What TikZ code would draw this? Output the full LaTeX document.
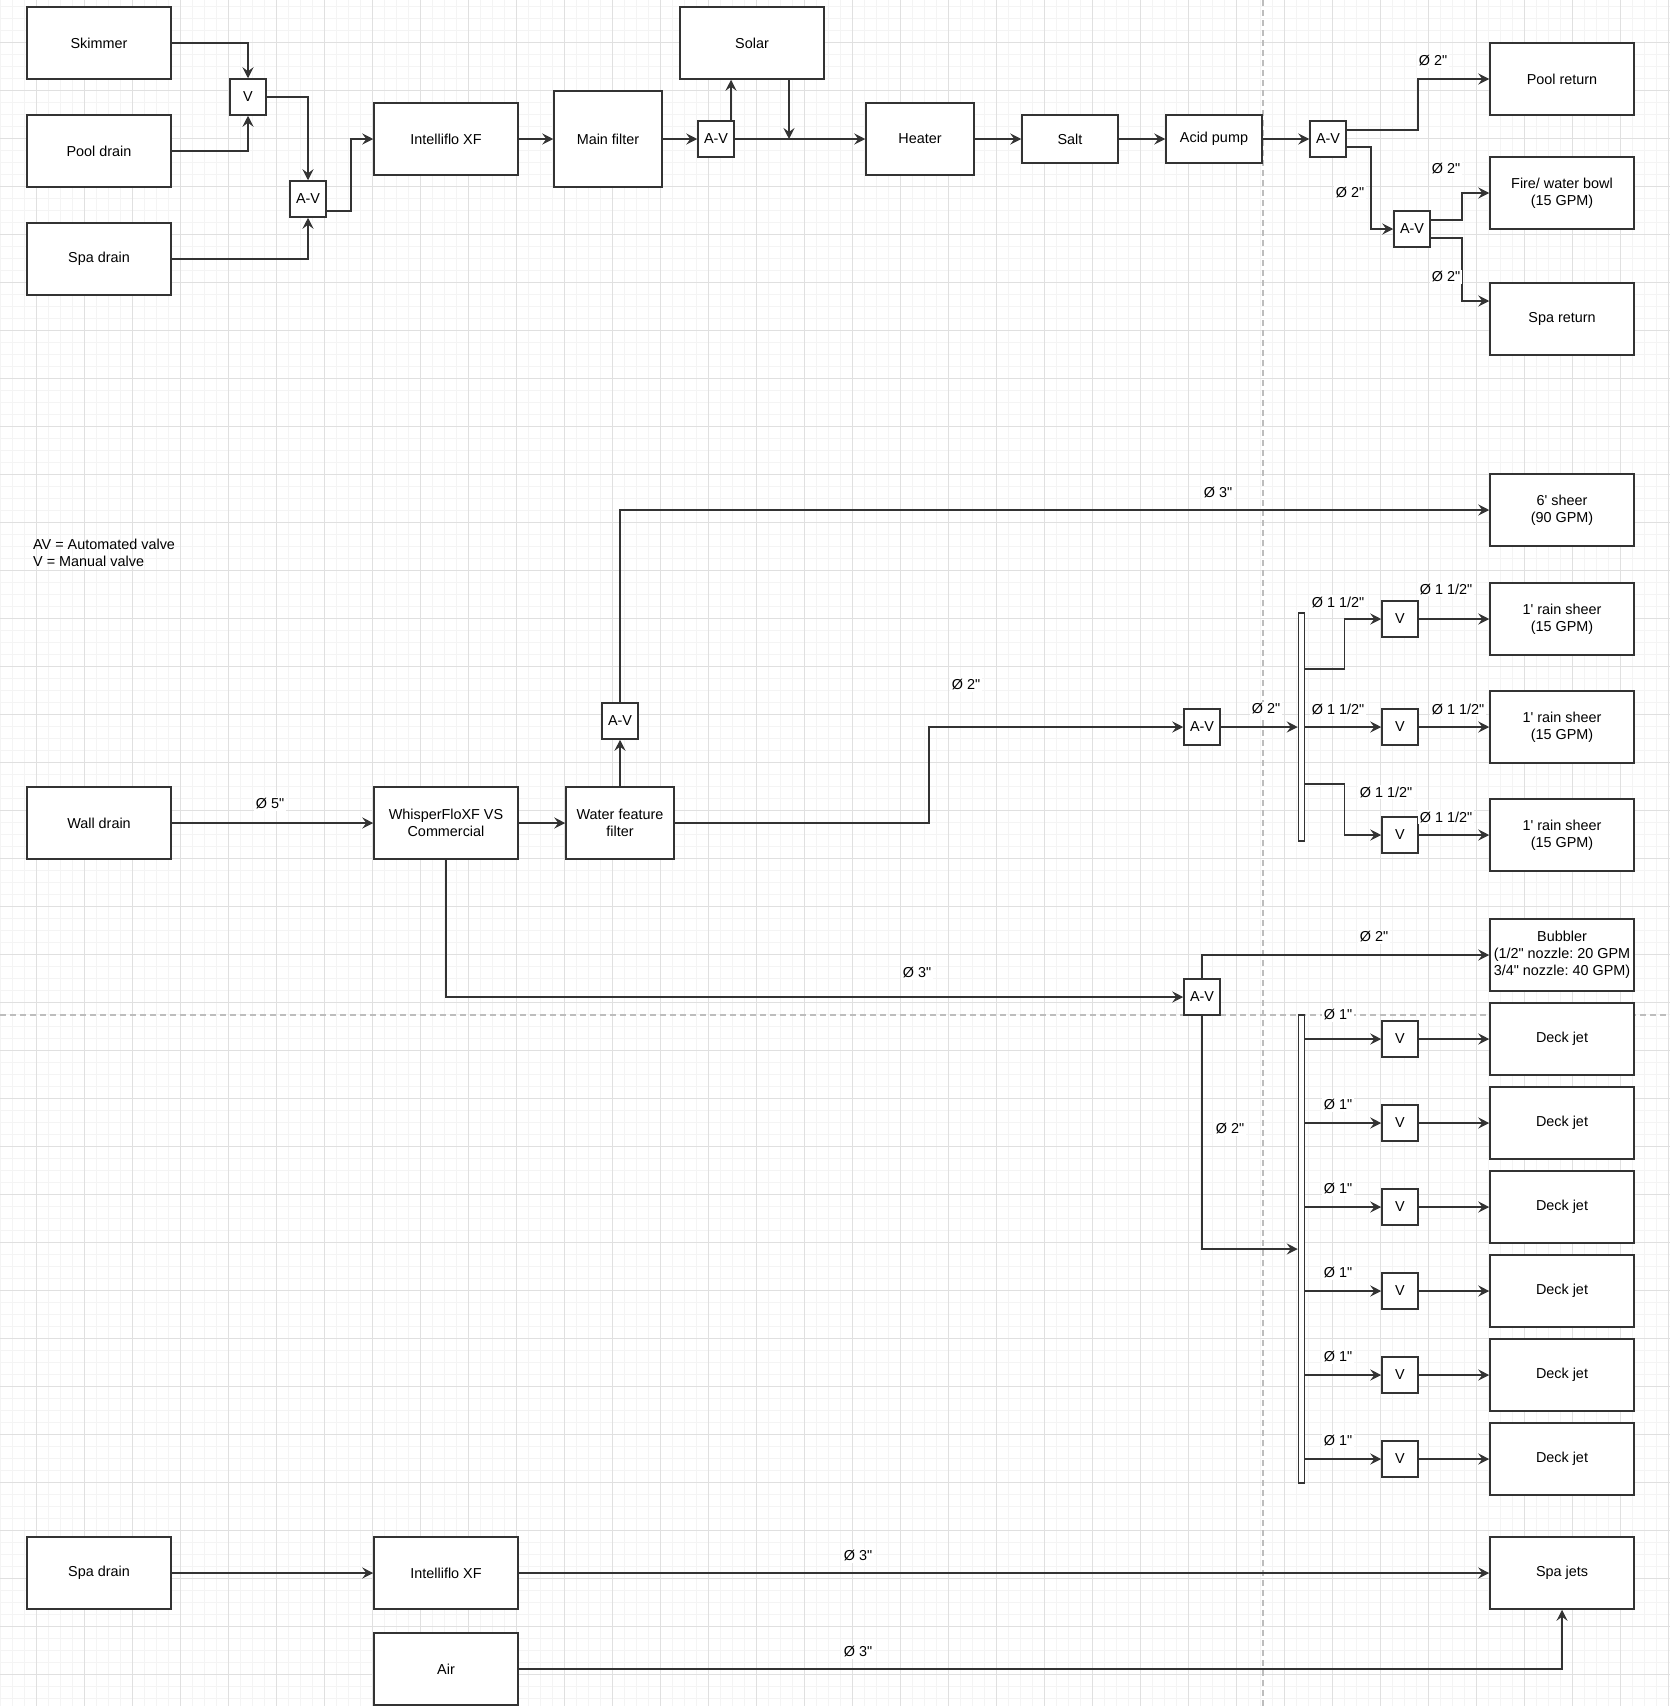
\documentclass[tikz,border=0pt]{standalone}
\usepackage{fontspec}
\newfontfamily\dfont{Liberation Sans}[Ligatures=TeXOff]
\usetikzlibrary{arrows.meta,calc}
\definecolor{lc}{HTML}{333333}
\definecolor{gminor}{HTML}{F4F4F4}
\definecolor{gmajor}{HTML}{E0E0E0}
\definecolor{pagebrk}{HTML}{BDBDBD}
\frenchspacing
\tikzset{
  base/.style={draw=lc, line width=1.5pt, fill=white, inner sep=0pt, align=center,
    font=\dfont\frenchspacing\fontsize{14.4}{17}\selectfont},
  box/.style={base, minimum width=144pt, minimum height=72pt},
  valve/.style={base, minimum width=36pt, minimum height=36pt},
  manifold/.style={draw=lc, line width=1.5pt, fill=white, minimum width=6pt, inner sep=0pt},
  arr/.style={draw=lc, line width=1.5pt, -{Stealth[length=11pt,width=11pt,inset=4pt]}},
  lbl/.style={fill=white, inner sep=1.5pt, font=\dfont\fontsize{14.4}{17}\selectfont},
  gridminor/.style={draw=gminor, line width=0.7pt},
  gridmajor/.style={draw=gmajor, line width=1pt},
  pagebreak/.style={draw=pagebrk, line width=1.2pt, dash pattern=on 6pt off 4pt},
}
\begin{document}
\begin{tikzpicture}[x=1pt,y=-1pt]
\useasboundingbox (0,0) rectangle (1670,1706);
\fill[white] (0,0) rectangle (1670,1706);
% grid
\foreach \x in {0,12,...,1668} \draw[gridminor] (\x,0) -- (\x,1706);
\foreach \y in {6,18,...,1706} \draw[gridminor] (0,\y) -- (1670,\y);
\foreach \x in {36,84,...,1668} \draw[gridmajor] (\x,0) -- (\x,1706);
\foreach \y in {42,90,...,1706} \draw[gridmajor] (0,\y) -- (1670,\y);
% page breaks
\draw[pagebreak] (1263,0) -- (1263,1706);
\draw[pagebreak] (0,1015) -- (1670,1015);

% ---------- top section ----------
\node[box] (skim) at (99,43) {Skimmer};
\node[box] (pdrain) at (99,151) {Pool drain};
\node[box] (sdrain) at (99,259) {Spa drain};
\node[valve] (v1) at (248,97) {V};
\node[valve] (av1) at (308,199) {A-V};
\node[box] (intel) at (446,139) {Intelliflo XF};
\node[box, minimum width=108pt, minimum height=96pt] (mfilter) at (608,139) {Main filter};
\node[valve] (av2) at (716,139) {A-V};
\node[box] (solar) at (752,43) {Solar};
\node[box, minimum width=108pt] (heater) at (920,139) {Heater};
\node[box, minimum width=96pt, minimum height=48pt] (salt) at (1070,139) {Salt};
\node[box, minimum width=96pt, minimum height=48pt] (acid) at (1214,139) {Acid pump};
\node[valve] (av3) at (1328,139) {A-V};
\node[valve] (av4) at (1412,229) {A-V};
\node[box] (poolret) at (1562,79) {Pool return};
\node[box] (fire) at (1562,193) {Fire/ water bowl\\(15 GPM)};
\node[box] (sparet) at (1562,319) {Spa return};

\draw[arr] (skim.east) -| (v1.north);
\draw[arr] (pdrain.east) -| (v1.south);
\draw[arr] (v1.east) -| (av1.north);
\draw[arr] (sdrain.east) -| (av1.south);
\draw[arr] ([yshift=-12pt]av1.east) -- ++(24,0) |- (intel.west);
\draw[arr] (intel.east) -- (mfilter.west);
\draw[arr] (mfilter.east) -- (av2.west);
\draw[arr] (av2.north) -- ([xshift=15pt]av2.north) -- ([xshift=15pt]av2.north |- solar.south);
\draw[arr] ([xshift=37pt]solar.south) -- ([xshift=37pt]solar.south |- av2.east);
\draw[arr] (av2.east) -- (heater.west);
\draw[arr] (heater.east) -- (salt.west);
\draw[arr] (salt.east) -- (acid.west);
\draw[arr] (acid.east) -- (av3.west);
\draw[arr] ([yshift=9pt]av3.east) -- ++(71,0) |- (poolret.west);
\draw[arr] ([yshift=-8pt]av3.east) -- ++(24,0) |- (av4.west);
\draw[arr] ([yshift=9pt]av4.east) -- ++(31,0) |- (fire.west);
\draw[arr] ([yshift=-9pt]av4.east) -- ++(31,0) |- ([yshift=18pt]sparet.west);

\node[lbl] (l1) at (1433,61) {Ø 2"};
\node[lbl] (l2) at (1350,193) {Ø 2"};
\node[lbl] (l3) at (1446,169) {Ø 2"};
\node[lbl] (l4) at (1446,277) {Ø 2"};

% legend
\node[anchor=west, align=left, inner sep=0pt, font=\dfont\fontsize{14.4}{17}\selectfont] (legend) at (33,552.5) {AV = Automated valve\\V = Manual valve};

% ---------- middle section ----------
\node[box] (wall) at (99,823) {Wall drain};
\node[box] (whisper) at (446,823) {WhisperFloXF VS\\Commercial};
\node[box, minimum width=108pt] (wff) at (620,823) {Water feature\\filter};
\node[valve] (av5) at (620,721) {A-V};
\node[box] (sheer6) at (1562,510) {6' sheer\\(90 GPM)};
\node[valve] (av6) at (1202,727) {A-V};
\node[manifold, minimum height=228pt] (bar1) at (1301.5,727) {};
\node[valve] (vA) at (1400,619) {V};
\node[valve] (vB) at (1400,727) {V};
\node[valve] (vC) at (1400,835) {V};
\node[box] (rain1) at (1562,619) {1' rain sheer\\(15 GPM)};
\node[box] (rain2) at (1562,727) {1' rain sheer\\(15 GPM)};
\node[box] (rain3) at (1562,835) {1' rain sheer\\(15 GPM)};
\node[valve] (av7) at (1202,997) {A-V};
\node[box] (bubbler) at (1562,955) {Bubbler\\(1/2" nozzle: 20 GPM\\3/4" nozzle: 40 GPM)};
\node[manifold, minimum height=468pt] (bar2) at (1301.5,1249) {};

\draw[arr] (wall.east) -- (whisper.west);
\draw[arr] (whisper.east) -- (wff.west);
\draw[arr] (wff.north) -- (av5.south);
\draw[arr] (av5.north) |- (sheer6.west);
\draw[arr] (wff.east) -- ++(254,0) |- (av6.west);
\draw[arr] (av6.east) -- (av6.east -| bar1.west);
\draw[arr] ([yshift=58pt]bar1.east) -- ++(39,0) |- (vA.west);
\draw[arr] (bar1.east) -- (vB.west);
\draw[arr] ([yshift=-57pt]bar1.east) -- ++(39,0) |- (vC.west);
\draw[arr] (vA.east) -- (rain1.west);
\draw[arr] (vB.east) -- (rain2.west);
\draw[arr] (vC.east) -- (rain3.west);
\draw[arr] (whisper.south) |- (av7.west);
\draw[arr] (av7.north) |- (bubbler.west);
\draw[arr] (av7.south) |- (bar2.west);

\foreach \i/\yy in {1/1039,2/1123,3/1207,4/1291,5/1375,6/1459}{
  \node[valve] (vd\i) at (1400,\yy) {V};
  \node[box] (deck\i) at (1562,\yy) {Deck jet};
  \draw[arr] (bar2.east |- vd\i.west) -- (vd\i.west);
  \draw[arr] (vd\i.east) -- (deck\i.west);
}

\node[lbl] (m1) at (270,804) {Ø 5"};
\node[lbl] (m2) at (1218,493) {Ø 3"};
\node[lbl] (m3) at (966,685) {Ø 2"};
\node[lbl] (m4) at (1266,709) {Ø 2"};
\node[lbl] (m5) at (1338,602) {Ø 1 1/2"};
\node[lbl] (m6) at (1446,589) {Ø 1 1/2"};
\node[lbl] (m7) at (1338,709) {Ø 1 1/2"};
\node[lbl] (m8) at (1458,709) {Ø 1 1/2"};
\node[lbl] (m9) at (1386,792) {Ø 1 1/2"};
\node[lbl] (m10) at (1446,817) {Ø 1 1/2"};
\node[lbl] (m11) at (917,973) {Ø 3"};
\node[lbl] (m12) at (1374,937) {Ø 2"};
\node[lbl] (m13) at (1230,1129) {Ø 2"};
\foreach \i/\yy in {1/1015,2/1105,3/1189,4/1273,5/1357,6/1441}{
  \node[lbl] (d\i) at (1338,\yy) {Ø 1"};
}

% ---------- bottom section ----------
\node[box] (sdrain2) at (99,1573) {Spa drain};
\node[box] (intel2) at (446,1573) {Intelliflo XF};
\node[box] (air) at (446,1669) {Air};
\node[box] (spajets) at (1562,1573) {Spa jets};
\draw[arr] (sdrain2.east) -- (intel2.west);
\draw[arr] (intel2.east) -- (spajets.west);
\draw[arr] (air.east) -| (spajets.south);
\node[lbl] (b1) at (858,1556) {Ø 3"};
\node[lbl] (b2) at (858,1652) {Ø 3"};
\end{tikzpicture}
\end{document}
